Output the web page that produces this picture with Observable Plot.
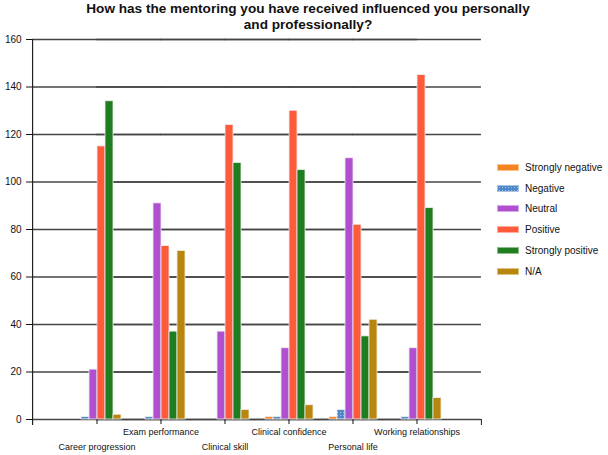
<!DOCTYPE html>
<html><head><meta charset="utf-8">
<script src="https://cdn.jsdelivr.net/npm/d3@7"></script>
<script src="https://cdn.jsdelivr.net/npm/@observablehq/plot@0.6"></script>
<style>
body{margin:0;background:#fff;font-family:Arial,"Liberation Sans",sans-serif;}
#wrap{position:relative;width:608px;height:455px;overflow:hidden;}
#title{position:absolute;left:0;top:1px;width:616px;text-align:center;font-weight:bold;font-size:13.6px;line-height:15.5px;color:#111;}
#legend{position:absolute;left:497px;top:157px;font-size:10px;color:#111;}
.item{display:flex;align-items:center;height:20.8px;}
.sw{width:22px;height:7px;margin-right:6px;box-sizing:border-box;border:1px solid rgba(255,255,255,0.5);}
#chart svg{overflow:visible;}
</style></head><body>
<div id="wrap"><div id="chart"></div>
<div id="title">How has the mentoring you have received influenced you personally<br>and professionally?</div>
<div id="legend"></div></div>
<script>
const categories = ["Career progression","Exam performance","Clinical skill","Clinical confidence","Personal life","Working relationships"];
const series = ["Strongly negative","Negative","Neutral","Positive","Strongly positive","N/A"];
const stronglyNegative = [0,0,0,1,1,0];
const negative = [1,1,0,1,4,1];
const neutral = [21,91,37,30,110,30];
const positive = [115,73,124,130,82,145];
const stronglyPositive = [134,37,108,105,35,89];
const notApplicable = [2,71,4,6,42,9];
const yTicks = [0,20,40,60,80,100,120,140,160];
const colors = ["#f5841f","#4f88c6","#b04fd0","#ff5a3a","#1e7d1e","#b8860b"];

const seriesValues = [stronglyNegative, negative, neutral, positive, stronglyPositive, notApplicable];
const data = [];
categories.forEach((c, i) => series.forEach((s, j) => data.push({category: c, series: s, value: seriesValues[j][i]})));

// "Negative" is drawn with a dotted fill, as in the reference
const fills = colors.map((c, j) => series[j] === "Negative" ? "url(#negDots)" : c);

const W = 608, H = 455, mL = 30, mR = 124, mT = 39, mB = 36;
const padInner = 0.2, padOuter = 0.6;
const step = (W - mL - mR) / (categories.length - padInner + 2 * padOuter);
const ext = step * padOuter; // outer padding width of the facet band scale

const chart = Plot.plot({
  width: W, height: H,
  marginTop: mT, marginBottom: mB, marginLeft: mL, marginRight: mR,
  style: {fontFamily: "Arial, 'Liberation Sans', sans-serif", fontSize: "10px", color: "#111", background: "white"},
  fx: {domain: categories, paddingInner: padInner, paddingOuter: padOuter, axis: null},
  x: {domain: series, padding: 0.04, axis: null},
  y: {domain: [0, 160], axis: null},
  color: {domain: series, range: fills},
  marks: [
    Plot.ruleY(yTicks, {stroke: "#444", strokeWidth: 1.5, insetLeft: -ext, insetRight: -ext}),
    Plot.axisY({ticks: yTicks, tickSize: 6, tickPadding: 5, dx: -ext, fontSize: 10, label: null}),
    Plot.barY(data, {fx: "category", x: "series", y: "value", fill: "series", stroke: "#eeeeee", strokeWidth: 0.8}),
    Plot.frame({anchor: "left", insetLeft: -ext, insetBottom: -5, stroke: "#222", strokeWidth: 1.2, facet: "super"}),
    Plot.frame({anchor: "right", insetRight: -ext, insetTop: H - mT - mB, insetBottom: -5, stroke: "#222", facet: "super"}),
    Plot.axisFx({anchor: "bottom", tickSize: 5, tickPadding: 4, fontSize: 9, label: null,
      tickFormat: d => categories.indexOf(d) % 2 === 1 ? d : ""}),
    Plot.axisFx({anchor: "bottom", tickSize: 0, tickPadding: 24, fontSize: 9, label: null,
      tickFormat: d => categories.indexOf(d) % 2 === 0 ? d : ""})
  ]
});
// pattern definition for the dotted "Negative" fill
const svgNS = "http://www.w3.org/2000/svg";
const defs = document.createElementNS(svgNS, "defs");
defs.innerHTML = '<pattern id="negDots" patternUnits="userSpaceOnUse" width="3" height="3">' +
  '<rect width="3" height="3" fill="' + colors[1] + '"/>' +
  '<rect x="1" y="1" width="1" height="1" fill="#9fc3ea"/></pattern>';
chart.insertBefore(defs, chart.firstChild);
document.getElementById("chart").appendChild(chart);

const legend = document.getElementById("legend");
series.forEach((s, j) => {
  const item = document.createElement("div");
  item.className = "item";
  const sw = document.createElement("div");
  sw.className = "sw";
  sw.style.background = colors[j];
  if (s === "Negative") {
    sw.style.backgroundImage = "radial-gradient(#9fc3ea 0.6px, transparent 0.8px)";
    sw.style.backgroundSize = "3px 3px";
  }
  const t = document.createElement("span");
  t.textContent = s;
  item.appendChild(sw); item.appendChild(t);
  legend.appendChild(item);
});
</script>
</body></html>
